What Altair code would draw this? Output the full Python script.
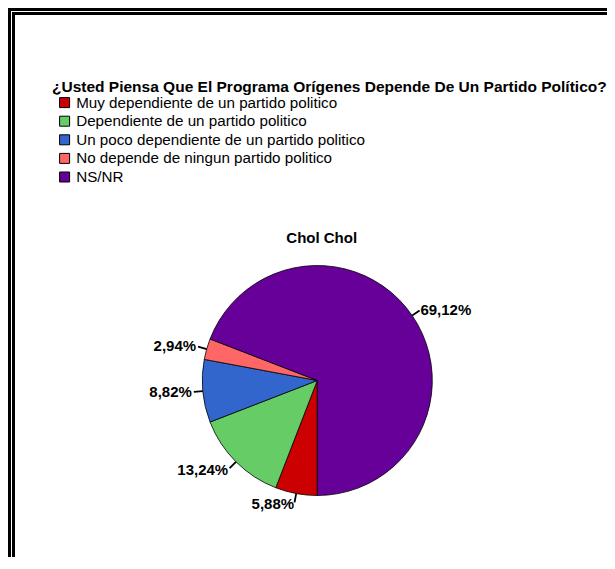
import math
import altair as alt
import pandas as pd

# ---- data ----
categories = [
    "Muy dependiente de un partido politico",
    "Dependiente de un partido politico",
    "Un poco dependiente de un partido politico",
    "No depende de ningun partido politico",
    "NS/NR",
]
values = [5.88, 13.24, 8.82, 2.94, 69.12]
value_labels = ["5,88%", "13,24%", "8,82%", "2,94%", "69,12%"]
colors = ["#CC0000", "#66CC66", "#3366CC", "#FF6666", "#660099"]
chart_title = "¿Usted Piensa Que El Programa Orígenes Depende De Un Partido Político?"
pie_title = "Chol Chol"

df = pd.DataFrame({
    "cat": categories,
    "value": values,
    "label": value_labels,
    "idx": list(range(len(categories))),
})

W, H = 599, 549
CX, CY = 309.3, 372.5
R = 115
FONT = "Liberation Sans"

theta_scale = alt.Scale(domain=[0, 100], range=[math.pi, 3 * math.pi])

base = (
    alt.Chart(df)
    .transform_window(cum="sum(value)", sort=[alt.SortField("idx")], frame=[None, 0])
    .transform_calculate(
        start="datum.cum - datum.value",
        mid="datum.cum - datum.value / 2",
        l0="datum.cum - datum.value / 2 - 0.12",
        l1="datum.cum - datum.value / 2 + 0.12",
    )
)

arcs = base.mark_arc(radius=R, stroke="black", strokeWidth=0.8).encode(
    theta=alt.Theta("start:Q", scale=theta_scale, stack=False),
    theta2="cum:Q",
    color=alt.Color(
        "cat:N",
        scale=alt.Scale(domain=categories, range=colors),
        sort=categories,
        legend=alt.Legend(
            title=chart_title,
            orient="none",
            legendX=44,
            legendY=71.5,
            padding=0,
            offset=0,
            titleFont=FONT,
            titleFontSize=15.5,
            titleFontWeight="bold",
            titleColor="black",
            titleLimit=800,
            titlePadding=0,
            labelFont=FONT,
            labelFontSize=15.2,
            labelColor="black",
            labelLimit=800,
            labelOffset=4,
            symbolType="square",
            symbolSize=100,
            symbolStrokeColor="black",
            symbolStrokeWidth=1,
            symbolOpacity=1,
            symbolOffset=5,
            rowPadding=2.6,
        ),
    ),
    order=alt.Order("idx:Q"),
    x=alt.value(CX),
    y=alt.value(CY),
)

leaders = base.mark_arc(radius=R + 9, radius2=R, color="black").encode(
    theta=alt.Theta("l0:Q", scale=theta_scale, stack=False),
    theta2="l1:Q",
    x=alt.value(CX),
    y=alt.value(CY),
)

labels_left = base.transform_filter("datum.mid < 50").mark_text(
    radius=126, align="right", baseline="middle", font=FONT, fontSize=15,
    fontWeight="bold", color="black",
).encode(
    theta=alt.Theta("mid:Q", scale=theta_scale, stack=False),
    text="label:N",
    x=alt.value(CX),
    y=alt.value(CY),
)

labels_right = base.transform_filter("datum.mid >= 50").mark_text(
    radius=125, align="left", baseline="middle", font=FONT, fontSize=15,
    fontWeight="bold", color="black",
).encode(
    theta=alt.Theta("mid:Q", scale=theta_scale, stack=False),
    text="label:N",
    x=alt.value(CX),
    y=alt.value(CY),
)

subtitle = alt.Chart(pd.DataFrame({"t": [pie_title]})).mark_text(
    font=FONT, fontSize=15, fontWeight="bold", color="black",
    align="center", baseline="middle",
).encode(text="t:N", x=alt.value(313.7), y=alt.value(229.7))

one = pd.DataFrame({"a": [0]})


def vline(x, y0, y1, w, c="black"):
    return alt.Chart(one).mark_rule(strokeWidth=w, color=c).encode(
        x=alt.value(x), y=alt.value(y0), y2=alt.value(y1))


def hline(y, x0, x1, w, c="black"):
    return alt.Chart(one).mark_rule(strokeWidth=w, color=c).encode(
        y=alt.value(y), x=alt.value(x0), x2=alt.value(x1))


frame = [
    vline(1.5, 0, H, 3),
    hline(1.5, 0, W, 3),
    vline(5.5, 4, H, 3),
    hline(5.5, 4, W, 3),
]

chart = alt.layer(*frame, arcs, leaders, labels_left, labels_right, subtitle).properties(
    width=W, height=H, autosize="none", padding=0,
).configure_view(strokeWidth=0)

chart.save("out.html", embed_options={"renderer": "svg", "actions": False})
